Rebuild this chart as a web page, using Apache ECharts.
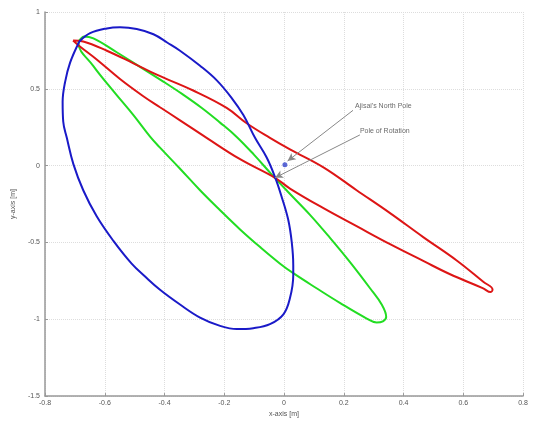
<!DOCTYPE html>
<html>
<head>
<meta charset="utf-8">
<script src="https://cdn.jsdelivr.net/npm/echarts@6/dist/echarts.min.js"></script>
<style>
    html, body { margin: 0; padding: 0; background: #fff; }
    #chart { width: 533px; height: 423px; }
</style>
</head>
<body>
<div id="chart"></div>
<script>
    // tick values
    var xTicks = [-0.8, -0.6, -0.4, -0.2, 0, 0.2, 0.4, 0.6, 0.8]
    var yTicks = [-1.5, -1, -0.5, 0, 0.5, 1]

    // blue orbit
    var blueOrbit = [
        [-0.685, 0.808], [-0.649, 0.862], [-0.593, 0.893], [-0.549, 0.900], [-0.493, 0.889],
        [-0.437, 0.855], [-0.390, 0.800], [-0.348, 0.748], [-0.281, 0.650], [-0.225, 0.555],
        [-0.175, 0.440], [-0.136, 0.329], [-0.097, 0.181], [-0.058, 0.053], [-0.030, -0.075],
        [-0.008, -0.202], [0.014, -0.351], [0.026, -0.500], [0.031, -0.649], [0.031, -0.713],
        [0.020, -0.862], [-0.002, -0.968], [-0.047, -1.032], [-0.103, -1.058], [-0.158, -1.064],
        [-0.214, -1.043], [-0.281, -0.989], [-0.348, -0.904], [-0.415, -0.808], [-0.465, -0.722],
        [-0.510, -0.638], [-0.571, -0.490], [-0.627, -0.330], [-0.672, -0.160], [-0.705, 0.010],
        [-0.727, 0.181], [-0.739, 0.287], [-0.741, 0.415], [-0.733, 0.542], [-0.716, 0.670],
        [-0.685, 0.808]
    ]

    // green orbit
    var greenOrbit = [
        [-0.672, 0.840], [-0.638, 0.828], [-0.560, 0.738], [-0.482, 0.643], [-0.404, 0.547],
        [-0.340, 0.465], [-0.275, 0.375], [-0.214, 0.280], [-0.160, 0.190], [-0.100, 0.070],
        [-0.040, -0.060], [0.013, -0.170], [0.087, -0.320], [0.154, -0.470], [0.221, -0.628],
        [0.288, -0.798], [0.327, -0.904], [0.342, -0.985], [0.331, -1.013], [0.310, -1.021],
        [0.277, -0.995], [0.187, -0.893], [0.109, -0.798], [0.031, -0.700], [-0.013, -0.638],
        [-0.080, -0.530], [-0.147, -0.415], [-0.214, -0.290], [-0.281, -0.160], [-0.348, -0.020],
        [-0.415, 0.117], [-0.449, 0.191], [-0.504, 0.329], [-0.571, 0.485], [-0.638, 0.648],
        [-0.688, 0.798], [-0.672, 0.840]
    ]

    // red orbit
    var redOrbit = [
        [-0.706, 0.815], [-0.672, 0.808], [-0.593, 0.748], [-0.504, 0.666], [-0.426, 0.592],
        [-0.304, 0.489], [-0.192, 0.376], [-0.125, 0.276], [-0.047, 0.181], [0.020, 0.106],
        [0.132, -0.011], [0.243, -0.160], [0.355, -0.309], [0.466, -0.465], [0.578, -0.617],
        [0.667, -0.756], [0.698, -0.806], [0.692, -0.823], [0.665, -0.797], [0.556, -0.707],
        [0.466, -0.620], [0.355, -0.511], [0.243, -0.394], [0.132, -0.277], [0.020, -0.149],
        [-0.030, -0.079], [-0.147, 0.042], [-0.259, 0.181], [-0.348, 0.295], [-0.415, 0.380],
        [-0.471, 0.452], [-0.549, 0.564], [-0.627, 0.691], [-0.683, 0.776], [-0.706, 0.815]
    ]

    // annotations
    var northPole = [[0.003, 0.006]]
    var poleOfRotation = [-0.030, -0.079]
    var labelNames = ["Ajisai's North Pole", 'Pole of Rotation']
    var labelAnchors = [[0.238, 0.391], [0.254, 0.225]]
    var arrowStarts = [[0.231, 0.360], [0.254, 0.200]]
    var arrowEnds = [[0.012, 0.030], poleOfRotation]

    var myChart = echarts.init(document.getElementById('chart'))

    var axisText = { color: '#555', fontSize: 7, fontFamily: 'Liberation Sans' }

    var options = {
        animation: false,
        grid: {
            left: 45,
            right: 10,
            top: 12,
            bottom: 20
        },
        xAxis: {
            type: 'value',
            min: xTicks[0],
            max: xTicks[xTicks.length - 1],
            interval: 0.2,
            name: 'x-axis [m]',
            nameLocation: 'middle',
            nameGap: 13,
            nameTextStyle: axisText,
            axisLine: { onZero: false, lineStyle: { color: '#999', width: 1.5 } },
            axisTick: { inside: true, length: 3, lineStyle: { color: '#999' } },
            axisLabel: Object.assign({ margin: 3 }, axisText),
            splitLine: { show: true, lineStyle: { color: '#ddd', type: 'dotted' } }
        },
        yAxis: {
            type: 'value',
            min: yTicks[0],
            max: yTicks[yTicks.length - 1],
            interval: 0.5,
            name: 'y-axis [m]',
            nameLocation: 'middle',
            nameGap: 22,
            nameTextStyle: axisText,
            axisLine: { onZero: false, lineStyle: { color: '#999', width: 1.5 } },
            axisTick: { inside: true, length: 3, lineStyle: { color: '#999' } },
            axisLabel: Object.assign({ margin: 5 }, axisText),
            splitLine: { show: true, lineStyle: { color: '#ddd', type: 'dotted' } }
        },
        series: [
            {
                type: 'line',
                data: greenOrbit,
                smooth: 0.4,
                showSymbol: false,
                lineStyle: { color: '#22dd22', width: 2 }
            },
            {
                type: 'line',
                data: redOrbit,
                smooth: 0.4,
                showSymbol: false,
                lineStyle: { color: '#dd1515', width: 2 }
            },
            {
                type: 'line',
                data: blueOrbit,
                smooth: 0.4,
                showSymbol: false,
                lineStyle: { color: '#1a1ac8', width: 2 }
            },
            {
                // north pole dot, plus the two arrows
                type: 'scatter',
                data: northPole,
                symbolSize: 5,
                itemStyle: { color: '#3344cc' },
                markLine: {
                    silent: true,
                    symbol: ['none', 'arrow'],
                    symbolSize: [6, 8],
                    label: { show: false },
                    lineStyle: { color: '#888', type: 'solid', width: 1 },
                    data: arrowStarts.map(function (s, i) {
                        return [{ coord: s }, { coord: arrowEnds[i], itemStyle: { color: '#222' } }]
                    })
                }
            },
            {
                // annotation text
                type: 'scatter',
                data: labelAnchors.map(function (p, i) { return { value: p, name: labelNames[i] } }),
                symbolSize: 0,
                label: {
                    show: true,
                    position: 'right',
                    distance: 0,
                    formatter: '{b}',
                    color: '#444',
                    fontSize: 7,
                    fontFamily: 'Liberation Sans'
                }
            }
        ]
    }
    myChart.setOption(options)
    window.addEventListener('resize', myChart.resize)
</script>
</body>
</html>
